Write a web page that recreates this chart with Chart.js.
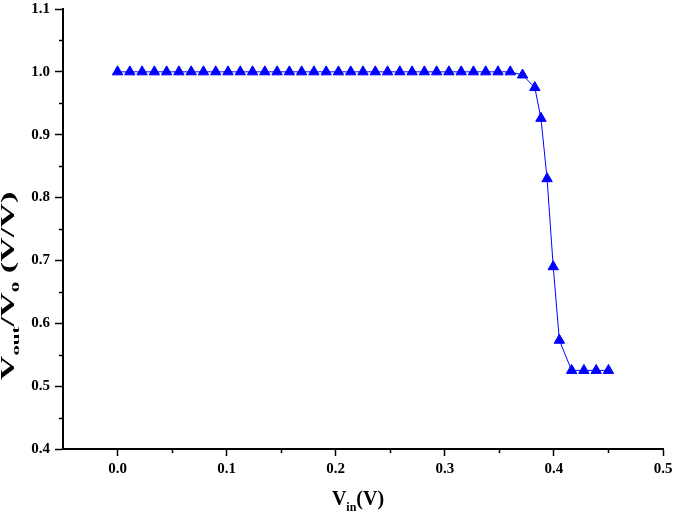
<!DOCTYPE html>
<html>
<head>
<meta charset="utf-8">
<script src="https://cdn.jsdelivr.net/npm/chart.js@4.4.1/dist/chart.umd.min.js"></script>
<style>
  html, body { margin: 0; padding: 0; background: #fff; }
  canvas { display: block; }
</style>
</head>
<body>
<canvas id="chart" width="675" height="514"></canvas>
<script>
// input voltage (V) and normalised output (V/V)
const vIn = [
  0, 0.01125, 0.0225, 0.03375, 0.045, 0.05625, 0.0675, 0.07875, 0.09, 0.10125,
  0.1125, 0.12375, 0.135, 0.14625, 0.1575, 0.16875, 0.18, 0.19125, 0.2025, 0.21375,
  0.225, 0.23625, 0.2475, 0.25875, 0.27, 0.28125, 0.2925, 0.30375, 0.315, 0.32625,
  0.3375, 0.34875, 0.36, 0.37125, 0.3825, 0.388125, 0.39375, 0.399375, 0.405, 0.41625,
  0.4275, 0.43875, 0.45
];
const vOutRatio = [
  1, 1, 1, 1, 1, 1, 1, 1, 1, 1,
  1, 1, 1, 1, 1, 1, 1, 1, 1, 1,
  1, 1, 1, 1, 1, 1, 1, 1, 1, 1,
  1, 1, 1, 0.995, 0.975, 0.926, 0.830, 0.690, 0.573, 0.525,
  0.525, 0.525, 0.525
];
const xTicks = [0, 0.1, 0.2, 0.3, 0.4, 0.5];
const xMinorTicks = [0.05, 0.15, 0.25, 0.35, 0.45];
const yTicks = [0.4, 0.5, 0.6, 0.7, 0.8, 0.9, 1.0, 1.1];
const yMinorTicks = [0.45, 0.55, 0.65, 0.75, 0.85, 0.95, 1.05];

const FONT = "'Liberation Serif', 'Times New Roman', serif";

// draws pieces of text with subscripts, centred on (cx, baseline)
function drawRich(ctx, parts, cx, baseline, size, subSize) {
  const fonts = parts.map(p => `bold ${p.sub ? subSize : size}px ${FONT}`);
  let total = 0;
  const widths = parts.map((p, i) => {
    ctx.font = fonts[i];
    const w = ctx.measureText(p.t).width;
    total += w;
    return w;
  });
  let x = cx - total / 2;
  ctx.textAlign = "left";
  ctx.textBaseline = "alphabetic";
  parts.forEach((p, i) => {
    ctx.font = fonts[i];
    ctx.fillText(p.t, x, baseline + (p.sub ? size * 0.3 : 0));
    x += widths[i];
  });
}

const extras = {
  id: "extras",
  afterDraw(chart) {
    const { ctx, chartArea, scales } = chart;
    ctx.save();
    ctx.strokeStyle = "#000";
    ctx.lineWidth = 1.5;
    ctx.beginPath();
    xMinorTicks.forEach(v => {
      const px = Math.round(scales.x.getPixelForValue(v)) + 0.5;
      ctx.moveTo(px, chartArea.bottom);
      ctx.lineTo(px, chartArea.bottom + 4);
    });
    yMinorTicks.forEach(v => {
      const py = Math.round(scales.y.getPixelForValue(v)) + 0.5;
      ctx.moveTo(chartArea.left, py);
      ctx.lineTo(chartArea.left - 4, py);
    });
    ctx.stroke();

    ctx.fillStyle = "#000";
    drawRich(ctx, [{ t: "V" }, { t: "in", sub: true }, { t: "(V)" }],
      (chartArea.left + chartArea.right) / 2 - 5, 505, 20, 12);

    // the vertical title is stretched along its length in the original
    ctx.translate(14, 286);
    ctx.rotate(-Math.PI / 2);
    ctx.scale(1.9, 1);
    drawRich(ctx, [{ t: "V" }, { t: "out", sub: true }, { t: "/V" }, { t: "0", sub: true }, { t: " (V/V)" }],
      0, 0, 18, 11);
    ctx.restore();
  }
};

new Chart(document.getElementById("chart"), {
  type: "scatter",
  data: {
    datasets: [{
      data: vIn.map((x, i) => ({ x, y: vOutRatio[i] })),
      showLine: true,
      borderColor: "#0000ff",
      borderWidth: 1,
      pointStyle: "triangle",
      pointRadius: 6,
      pointBackgroundColor: "#0000ff",
      pointBorderColor: "#0000ff",
      pointBorderWidth: 1
    }]
  },
  options: {
    responsive: false,
    animation: false,
    layout: { padding: { top: 9, right: 12, left: 0, bottom: 0 } },
    plugins: { legend: { display: false }, tooltip: { enabled: false } },
    scales: {
      x: {
        type: "linear",
        min: -0.05,
        max: 0.5,
        afterBuildTicks: s => { s.ticks = xTicks.map(value => ({ value })); },
        afterFit: s => { s.height = 65; s.paddingLeft = 0; s.paddingRight = 0; },
        border: { color: "#000", width: 2 },
        grid: { drawOnChartArea: false, color: "#000", tickLength: 7, tickWidth: 1.5 },
        ticks: {
          color: "#000",
          padding: 4,
          maxRotation: 0,
          font: { family: FONT, size: 15, weight: "bold" },
          callback: v => v.toFixed(1)
        }
      },
      y: {
        type: "linear",
        min: 0.4,
        max: 1.1,
        afterBuildTicks: s => { s.ticks = yTicks.map(value => ({ value })); },
        afterFit: s => { s.width = 63; s.paddingTop = 0; s.paddingBottom = 0; },
        border: { color: "#000", width: 2 },
        grid: { drawOnChartArea: false, color: "#000", tickLength: 8, tickWidth: 1.5 },
        ticks: {
          color: "#000",
          padding: 5,
          font: { family: FONT, size: 15, weight: "bold" },
          callback: v => v.toFixed(1)
        }
      }
    }
  },
  plugins: [extras]
});
</script>
</body>
</html>
